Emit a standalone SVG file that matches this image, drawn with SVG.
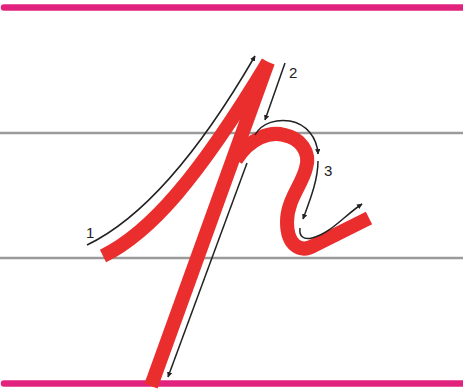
<svg xmlns="http://www.w3.org/2000/svg" width="463" height="390" viewBox="0 0 463 390">
<style>
.pink{stroke:#E2237E;stroke-width:6.5;stroke-linecap:round;fill:none}
.rule{stroke:#9A9A9A;stroke-width:2.5;fill:none}
.ink{stroke:#EA2E2E;stroke-width:14;fill:none;stroke-linecap:butt;stroke-linejoin:round}
.arr{stroke:#222;stroke-width:1.5;fill:none;marker-end:url(#ah)}
.lbl{font-family:"Liberation Sans",Arial,sans-serif;font-size:15px;fill:#222}
</style>
<defs>
<marker id="ah" viewBox="0 0 10 10" refX="9" refY="5" markerWidth="5.5" markerHeight="5.5" markerUnits="userSpaceOnUse" orient="auto">
<path d="M0,0 L10,5 L0,10 z" fill="#222"/>
</marker>
</defs>
<rect width="463" height="390" fill="#fff"/>
<g id="guides">
<line class="pink" x1="4" y1="7.5" x2="470" y2="7.5"/>
<line class="pink" x1="4" y1="383.5" x2="470" y2="383.5"/>
<line class="rule" x1="0" y1="133" x2="463" y2="133"/>
<line class="rule" x1="0" y1="258" x2="463" y2="258"/>
</g>
<g id="letter">
<path class="ink" d="M103,256 C150,233 198,178 268,62"/>
<path class="ink" d="M268,62 L151,386"/>
<path class="ink" d="M236,160 C250,138 270,131 284,135 C300,138 311,152 306,168 C302,185 287,200 287,222 C287,245 300,254 315,245 L369,218"/>
</g>
<g id="connectors">
<path class="arr" d="M87,245 C135,222 190,168 255,56"/>
<path class="arr" d="M285,63 L265,120"/>
<path class="arr" d="M247,163 L168,377"/>
<path class="arr" d="M255,135 C262,122 278,119 290,121 C306,124 317,137 318,154"/>
<path class="arr" d="M318,161 C318,180 310,200 303,219"/>
<path class="arr" d="M300,228 C299,236 303,240 312,238 C330,234 345,215 362,204"/>
</g>
<g id="labels">
<text class="lbl" x="86" y="238">1</text>
<text class="lbl" x="289" y="78">2</text>
<text class="lbl" x="324" y="176">3</text>
</g>
</svg>
